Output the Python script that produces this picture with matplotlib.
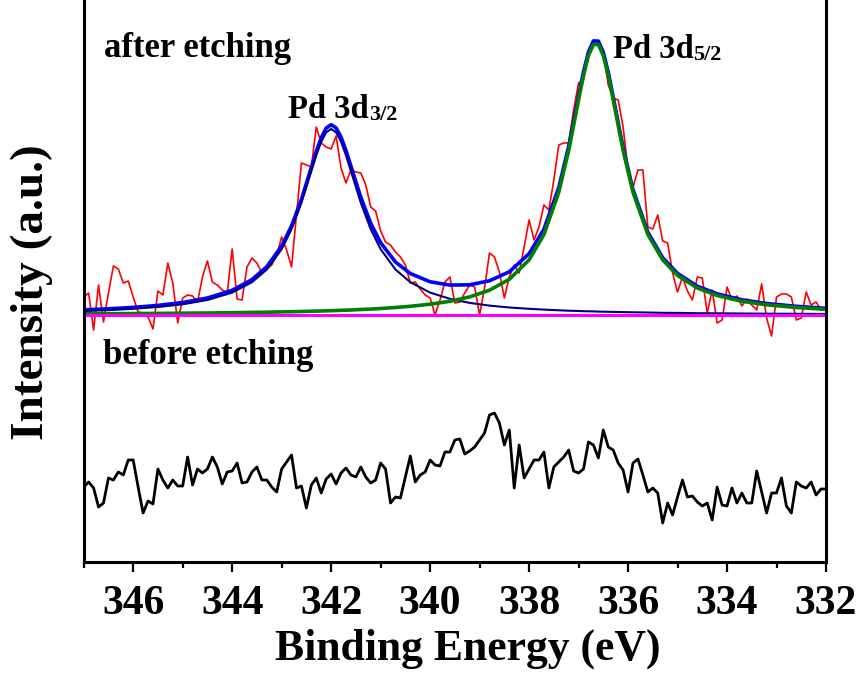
import matplotlib
matplotlib.use('Agg')
import matplotlib.pyplot as plt
from matplotlib.ticker import MultipleLocator
import numpy as np

plt.rcParams['font.family'] = 'Liberation Serif'
plt.rcParams['font.weight'] = 'bold'

# measured spectra, 347.0 -> 332.0 eV in 0.1 eV steps (151 points)
energy = np.linspace(347.0, 332.0, 151)

after_etching = [
    18, 22, -15, 30, -7, 22, 49, 46, 32, 34,
    18, 3, 2, -2, -14, 24, 20, 52, 32, -8,
    17, 20, 19, 13, 38, 54, 33, 30, 25, 22,
    66, 16, 15, 48, 57, 52, 42, 46, 50, 60,
    78, 65, 48, 100, 152, 150, 148, 188, 172, 168,
    166, 179, 147, 132, 145, 143, 142, 130, 108, 104,
    84, 73, 70, 63, 58, 50, 32, 33, 26, 20,
    17, 0, 15, 33, 38, 12, 13, 22, 30, 28,
    0, 27, 62, 58, 43, 17, 38, 50, 42, 68,
    95, 75, 88, 110, 105, 135, 170, 172, 172, 205,
    232, 235, 262, 272, 270, 262, 230, 217, 215, 188,
    145, 128, 145, 145, 88, 86, 100, 74, 72, 42,
    23, 38, 24, 15, 38, 37, 2, 25, -8, -5,
    28, 15, 19, 9, 16, 10, 5, 31, -3, -21,
    18, 21, 21, 18, -5, -3, 23, 10, 13, 5, 7,
]

before_etching = [
    53, 58, 52, 33, 37, 62, 60, 68, 65, 80,
    80, 53, 27, 39, 36, 71, 60, 52, 60, 54,
    54, 83, 55, 71, 67, 71, 83, 73, 56, 68,
    69, 77, 57, 58, 68, 73, 60, 60, 53, 48,
    71, 78, 85, 52, 54, 32, 55, 62, 47, 61,
    66, 56, 67, 72, 65, 63, 73, 63, 57, 60,
    77, 71, 37, 43, 42, 63, 84, 58, 65, 68,
    80, 75, 74, 88, 88, 100, 101, 86, 89, 93,
    100, 107, 125, 127, 117, 95, 110, 52, 95, 62,
    71, 80, 80, 88, 52, 73, 78, 83, 90, 69,
    67, 71, 98, 95, 82, 110, 93, 90, 77, 70,
    48, 77, 81, 65, 48, 52, 47, 17, 37, 25,
    43, 60, 43, 44, 38, 34, 37, 20, 53, 35,
    34, 52, 37, 47, 37, 37, 69, 48, 27, 47,
    47, 62, 34, 27, 58, 54, 52, 58, 45, 51, 51,
]
before_offset = -225

# fitted components
fit_energy = [347.0, 346.5, 346.0, 345.5, 345.0, 344.5, 344.0, 343.6, 343.3, 343.0,
              342.8, 342.6, 342.4, 342.3, 342.2, 342.1, 342.0, 341.9, 341.8, 341.7,
              341.6, 341.4, 341.2, 341.0, 340.7, 340.4, 340.0, 339.6, 339.2, 338.8,
              338.4, 338.0, 337.7, 337.4, 337.2, 337.0, 336.9, 336.8, 336.7, 336.6,
              336.5, 336.4, 336.3, 336.1, 335.9, 335.6, 335.3, 335.0, 334.6, 334.2,
              333.7, 333.2, 332.6, 332.0]
pd_3d32 = [4.0, 4.9, 6.2, 8.0, 10.7, 15.0, 22.4, 32.8, 45.5, 65.8,
           85.8, 112.2, 143.9, 159.7, 173.3, 182.7, 186.0, 182.7, 173.3, 159.7,
           143.9, 112.2, 85.8, 65.8, 45.5, 32.8, 22.4, 16.2, 12.1, 9.4,
           7.5, 6.2, 5.4, 4.7, 4.3, 4.0, 3.8, 3.7, 3.6, 3.4,
           3.3, 3.2, 3.1, 2.9, 2.7, 2.5, 2.2, 2.1, 1.8, 1.7,
           1.5, 1.3, 1.2, 1.0]
pd_3d52 = [1.2, 1.3, 1.4, 1.6, 1.8, 2.0, 2.3, 2.6, 2.8, 3.1,
           3.3, 3.5, 3.8, 3.9, 4.0, 4.2, 4.3, 4.5, 4.7, 4.8,
           5.0, 5.5, 5.9, 6.5, 7.5, 8.7, 10.8, 13.7, 18.1, 24.8,
           35.7, 55.1, 80.4, 122.7, 164.4, 215.0, 239.6, 259.4, 270.5, 270.5,
           259.4, 239.6, 215.0, 164.4, 122.7, 80.4, 55.1, 39.5, 27.0, 19.5,
           13.7, 10.2, 7.5, 5.7]
envelope = np.array(pd_3d32) + np.array(pd_3d52)

fig = plt.figure(figsize=(8.64, 6.77), dpi=100)
ax = fig.add_axes([83.7/864, 1-562/677, (826-83.7)/864, 562/677])

ax.plot(energy, after_etching, color='#ff0000', lw=1.2)
ax.plot(fit_energy, envelope, color='#0000ff', lw=2.6)
ax.plot(fit_energy, pd_3d32, color='#000080', lw=1.5)
ax.plot(fit_energy, pd_3d52, color='#008000', lw=2.6)
ax.plot([347, 332], [0, 0], color='#ff00ff', lw=2.2)
ax.plot(energy, np.array(before_etching) + before_offset, color='black', lw=2.0)

ax.set_xlim(347, 332)
ax.set_ylim(-247, 315)
ax.set_xticks(range(346, 331, -2))
ax.xaxis.set_minor_locator(MultipleLocator(1))
ax.set_yticks([])
ax.tick_params(axis='x', which='major', direction='out', length=7.5, width=1.6,
               labelsize=30, pad=9)
ax.tick_params(axis='x', which='minor', direction='out', length=4.5, width=1.6)
for s in ['left', 'right', 'bottom']:
    ax.spines[s].set_linewidth(2.2)
ax.spines['top'].set_visible(False)

ax.text(346.58, 258, 'after etching', fontsize=25, va='baseline')
ax.text(346.6, -49, 'before etching', fontsize=25, va='baseline')

t1 = ax.text(342.87, 197, 'Pd 3d', fontsize=23.5, va='baseline')
ax.annotate('3/2', xy=(1, 0), xycoords=t1, fontsize=16, va='bottom')
t2 = ax.text(336.31, 257, 'Pd 3d', fontsize=23.5, va='baseline')
ax.annotate('5/2', xy=(1, 0), xycoords=t2, fontsize=16, va='bottom')

fig.text(468/864, 1-660/677, 'Binding Energy (eV)', fontsize=31.5,
         ha='center', va='baseline')
fig.text(32/864, 1-292/677, 'Intensity (a.u.)', fontsize=34, rotation=90,
         ha='center', va='center')

fig.savefig('out.png', dpi=100)
